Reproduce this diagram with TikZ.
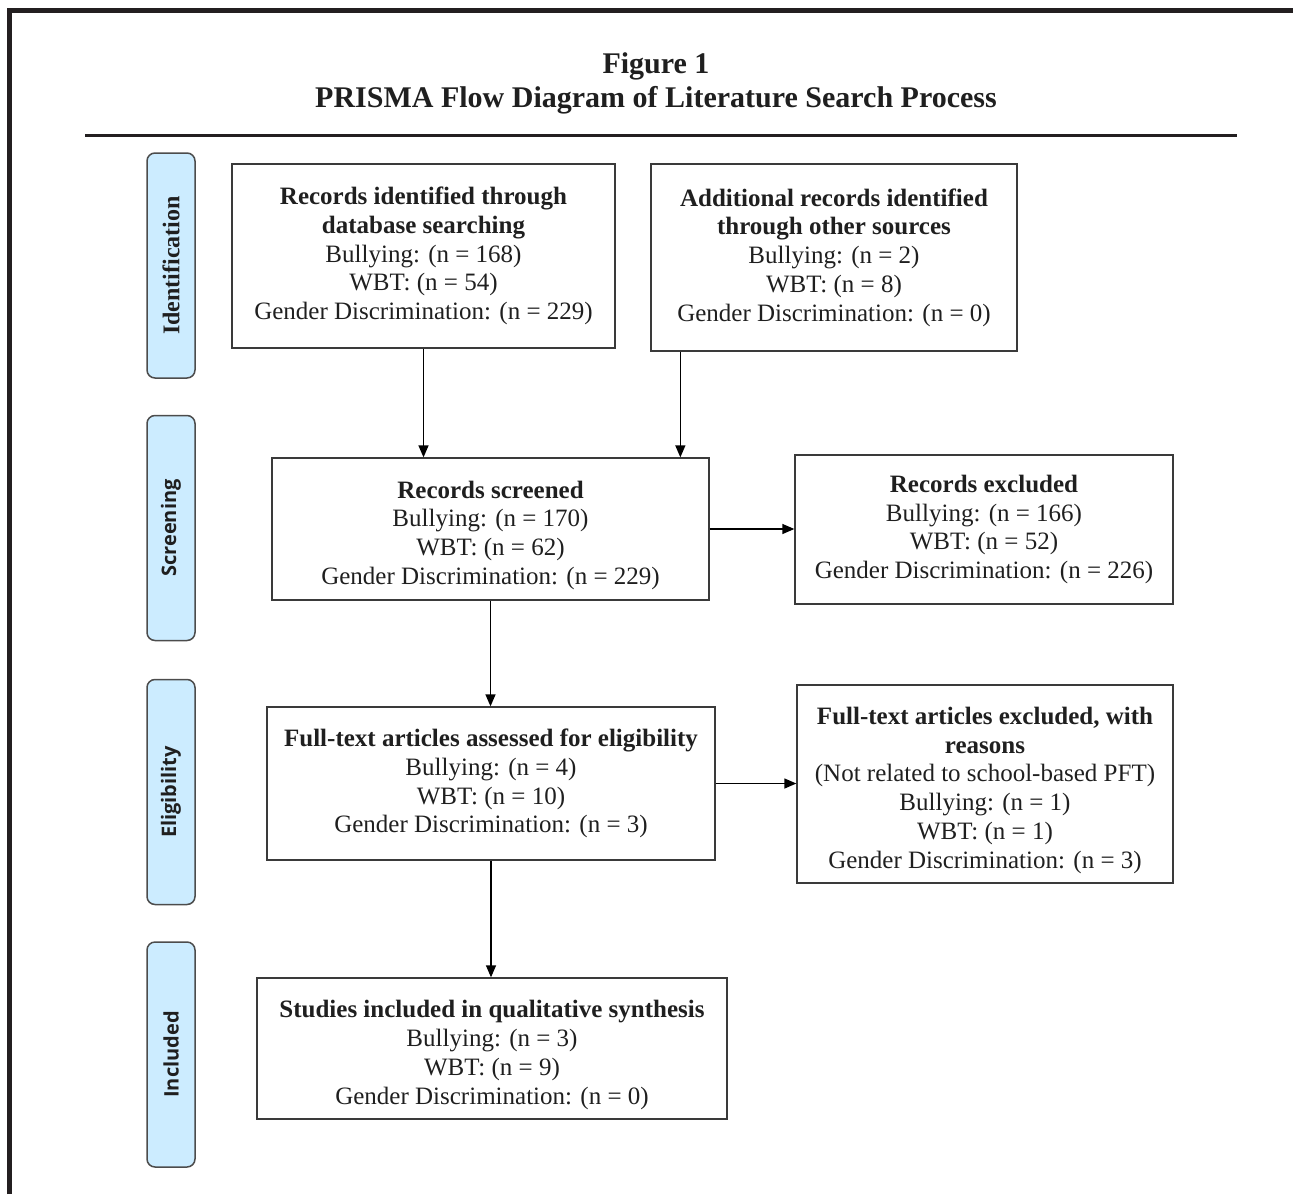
\documentclass[tikz,border=0pt]{standalone}
\usepackage{fontspec}
\setmainfont{Liberation Serif}
\newfontfamily\phasefont{Open Sans}
\usetikzlibrary{arrows.meta}
\definecolor{phaseblue}{HTML}{CCECFF}
\definecolor{framegray}{HTML}{231F20}
\definecolor{boxgray}{HTML}{3A3A3A}
\newcommand\phasesans{\phasefont\fontsize{20}{24}\selectfont\bfseries}
\newcommand\lowertxt{\rule{0pt}{30pt}}

\begin{document}
\begin{tikzpicture}[x=1pt,y=-1pt]
\tikzstyle{every node}=[font=\fontsize{25}{28.8}\selectfont, text=black!88]
\tikzstyle{box}=[draw=boxgray, line width=1.3pt, align=center, inner sep=0pt]
\tikzstyle{phase}=[draw=black!70, line width=1.5pt, fill=phaseblue, rounded corners=8pt, minimum width=225pt, minimum height=48pt, rotate=90, inner sep=0pt]
\tikzstyle{arr}=[-{Triangle[length=12pt,width=10pt]}, line width=1.3pt]
%\draw [red!40](0,0) grid (1293,1194);
\useasboundingbox (0,0) rectangle (1293,1194);

\draw [framegray, line width=5pt] (9.5,1194) -- (9.5,10) -- (1293,10);
\node [font=\fontsize{30}{34}\selectfont\bfseries, align=center] (title) at (656,83) {Figure 1\\PRISMA Flow Diagram of Literature Search Process};
\draw [framegray, line width=3pt] (85,135) -- (1237,135);

\node [phase, font=\fontsize{24}{28}\selectfont\bfseries] (idn) at (171,265.5) {Identification};
\node [phase, font=\phasesans] (scr) at (171,528) {Screening};
\node [phase, font=\phasesans] (elg) at (171,792) {Eligibility};
\node [phase, font=\phasesans] (inc) at (171,1054.5) {Included};

\node [box, minimum width=383pt, minimum height=184pt] (dbase) at (423.5,256) {\textbf{Records identified through}\\\textbf{database searching}\\Bullying: (n = 168)\\WBT: (n = 54)\\Gender Discrimination: (n = 229)};
\node [box, minimum width=366pt, minimum height=187pt] (other) at (834,257.5) {\textbf{Additional records identified}\\\textbf{through other sources}\\Bullying: (n = 2)\\WBT: (n = 8)\\Gender Discrimination: (n = 0)};
\node [box, minimum width=437pt, minimum height=142pt] (screen) at (490.5,529) {\lowertxt\textbf{Records screened}\\Bullying: (n = 170)\\WBT: (n = 62)\\Gender Discrimination: (n = 229)};
\node [box, minimum width=378pt, minimum height=149pt] (excl) at (984,529.5) {\textbf{Records excluded}\\Bullying: (n = 166)\\WBT: (n = 52)\\Gender Discrimination: (n = 226)};
\node [box, minimum width=448pt, minimum height=153pt] (full) at (491,783.5) {\textbf{Full-text articles assessed for eligibility}\\Bullying: (n = 4)\\WBT: (n = 10)\\Gender Discrimination: (n = 3)};
\node [box, minimum width=376pt, minimum height=198pt] (fullex) at (985,784) {\lowertxt\textbf{Full-text articles excluded, with}\\\textbf{reasons}\\(Not related to school-based PFT)\\Bullying: (n = 1)\\WBT: (n = 1)\\Gender Discrimination: (n = 3)};
\node [box, minimum width=470pt, minimum height=141pt] (incl) at (492,1048.5) {\lowertxt\textbf{Studies included in qualitative synthesis}\\Bullying: (n = 3)\\WBT: (n = 9)\\Gender Discrimination: (n = 0)};

\coordinate (ob) at ([xshift=30pt]other.south west);
\draw [arr] (dbase.south) -- (dbase.south |- screen.north);
\draw [arr] (ob) -- (ob |- screen.north);
\draw [arr] (screen.east) -- (screen.east -| excl.west);
\draw [arr] (screen.south) -- (screen.south |- full.north);
\draw [arr] (full.east) -- (full.east -| fullex.west);
\draw [arr] (full.south) -- (full.south |- incl.north);
\end{tikzpicture}
\end{document}
